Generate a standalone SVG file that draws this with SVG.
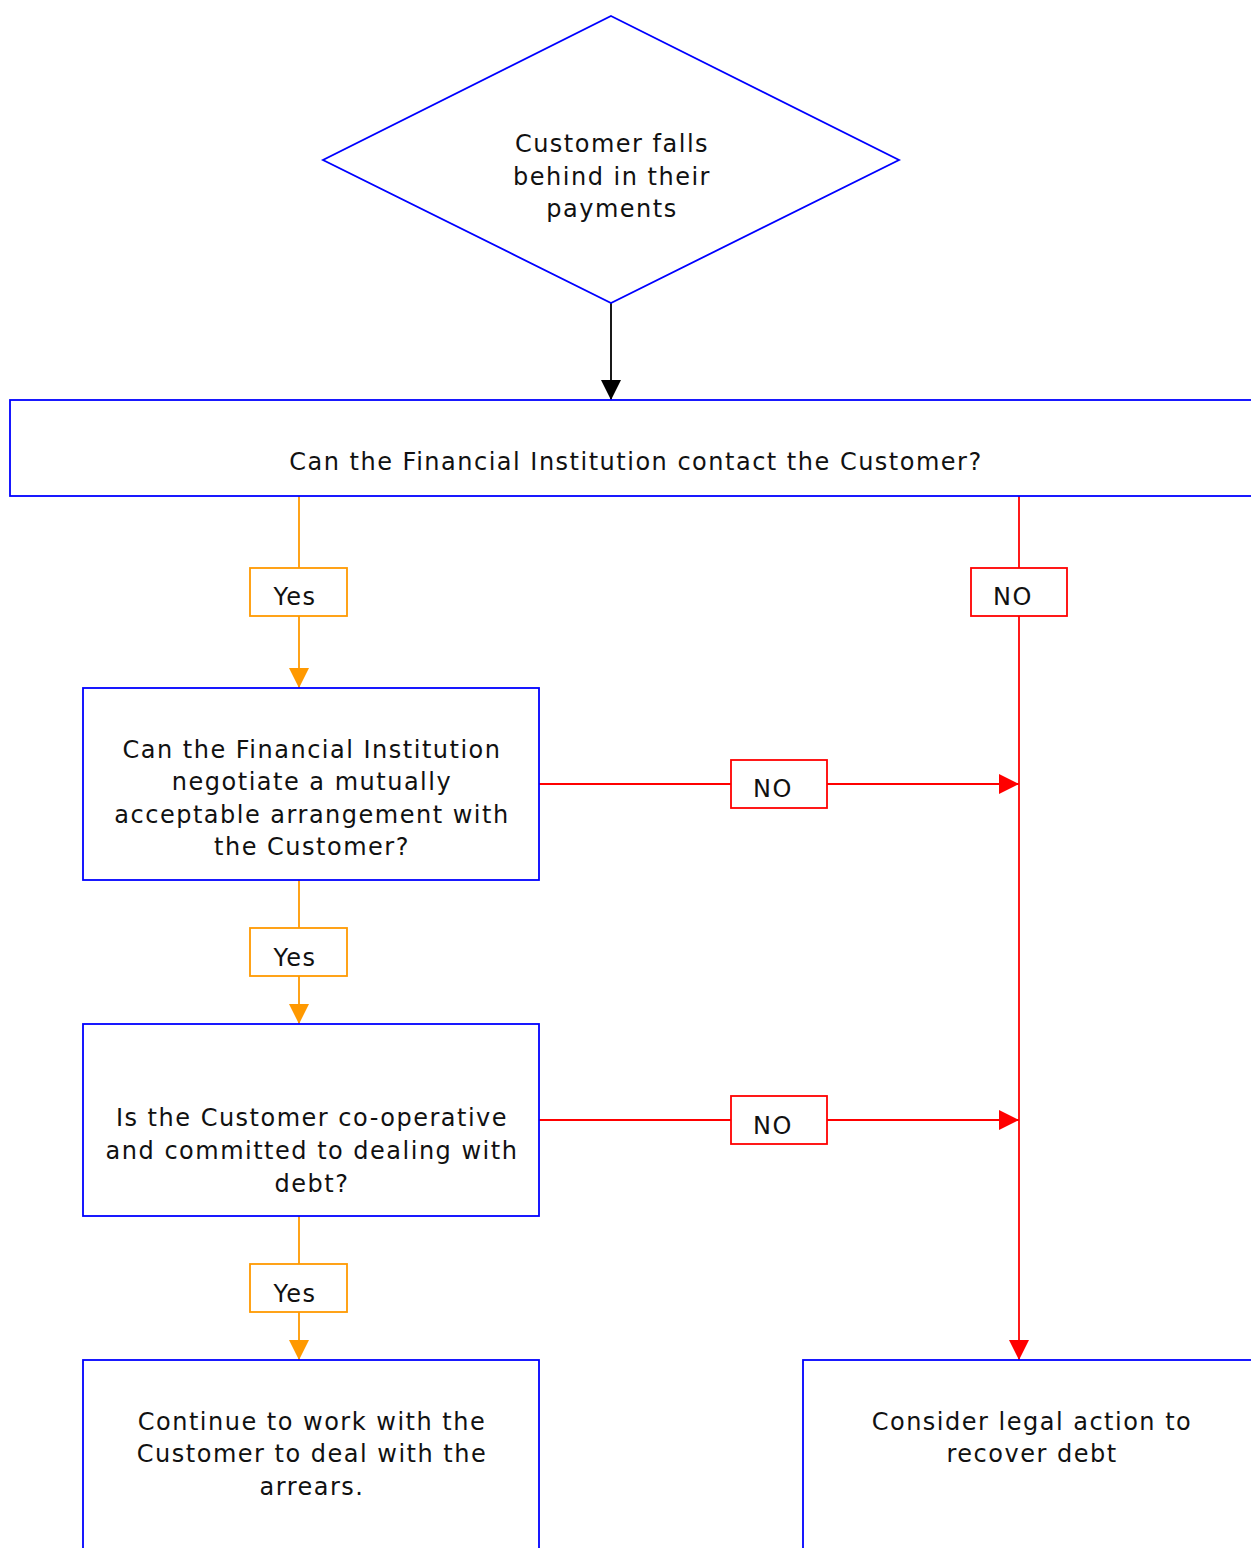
<svg xmlns="http://www.w3.org/2000/svg" width="1251" height="1548" viewBox="0 0 1251 1548">
  <style>
    .node { fill: #ffffff; stroke: #0000ff; stroke-width: 1.8; }
    .yesbox { fill: #ffffff; stroke: #ff9900; stroke-width: 1.8; }
    .nobox { fill: #ffffff; stroke: #ff0000; stroke-width: 1.8; }
    .yes { stroke: #ff9900; stroke-width: 1.8; fill: none; }
    .no { stroke: #ff0000; stroke-width: 1.8; fill: none; }
    .plain { stroke: #000000; stroke-width: 1.8; fill: none; }
    text { font-family: "DejaVu Sans", Verdana, sans-serif; font-size: 24px; letter-spacing: 1.5px; fill: #111111; text-anchor: middle; }
  </style>
  <defs>
    <marker id="arrBlack" markerUnits="userSpaceOnUse" markerWidth="20" markerHeight="20" refX="20" refY="10" orient="auto">
      <path d="M0,0 L20,10 L0,20 Z" fill="#000000"/>
    </marker>
    <marker id="arrOrange" markerUnits="userSpaceOnUse" markerWidth="20" markerHeight="20" refX="20" refY="10" orient="auto">
      <path d="M0,0 L20,10 L0,20 Z" fill="#ff9900"/>
    </marker>
    <marker id="arrRed" markerUnits="userSpaceOnUse" markerWidth="20" markerHeight="20" refX="20" refY="10" orient="auto">
      <path d="M0,0 L20,10 L0,20 Z" fill="#ff0000"/>
    </marker>
  </defs>

  <rect width="1251" height="1548" fill="#ffffff"/>

  <!-- connectors -->
  <g id="connectors">
    <line class="plain" x1="611" y1="303" x2="611" y2="400" marker-end="url(#arrBlack)"/>
    <!-- yes branch -->
    <line class="yes" x1="299" y1="496" x2="299" y2="568"/>
    <line class="yes" x1="299" y1="616" x2="299" y2="688" marker-end="url(#arrOrange)"/>
    <line class="yes" x1="299" y1="880" x2="299" y2="928"/>
    <line class="yes" x1="299" y1="976" x2="299" y2="1024" marker-end="url(#arrOrange)"/>
    <line class="yes" x1="299" y1="1216" x2="299" y2="1264"/>
    <line class="yes" x1="299" y1="1312" x2="299" y2="1360" marker-end="url(#arrOrange)"/>
    <!-- no branch -->
    <line class="no" x1="1019" y1="496" x2="1019" y2="568"/>
    <line class="no" x1="1019" y1="616" x2="1019" y2="1360" marker-end="url(#arrRed)"/>
    <line class="no" x1="539" y1="784" x2="731" y2="784"/>
    <line class="no" x1="827" y1="784" x2="1019" y2="784" marker-end="url(#arrRed)"/>
    <line class="no" x1="539" y1="1120" x2="731" y2="1120"/>
    <line class="no" x1="827" y1="1120" x2="1019" y2="1120" marker-end="url(#arrRed)"/>
    <!-- labels -->
    <rect class="yesbox" x="250" y="568" width="97" height="48"/>
    <text x="295" y="605">Yes</text>
    <rect class="yesbox" x="250" y="928" width="97" height="48"/>
    <text x="295" y="966">Yes</text>
    <rect class="yesbox" x="250" y="1264" width="97" height="48"/>
    <text x="295" y="1302">Yes</text>
    <rect class="nobox" x="971" y="568" width="96" height="48"/>
    <text x="1013" y="605">NO</text>
    <rect class="nobox" x="731" y="760" width="96" height="48"/>
    <text x="773" y="797">NO</text>
    <rect class="nobox" x="731" y="1096" width="96" height="48"/>
    <text x="773" y="1134">NO</text>
  </g>

  <g id="start">
    <polygon class="node" points="611,16 899,160 611,303 323,160"/>
    <text x="612" y="152">Customer falls</text>
    <text x="612" y="185">behind in their</text>
    <text x="612" y="217">payments</text>
  </g>

  <g id="contact">
    <rect class="node" x="10" y="400" width="1260" height="96"/>
    <text x="636" y="470">Can the Financial Institution contact the Customer?</text>
  </g>

  <g id="negotiate">
    <rect class="node" x="83" y="688" width="456" height="192"/>
    <text x="312" y="758">Can the Financial Institution</text>
    <text x="312" y="790">negotiate a mutually</text>
    <text x="312" y="823">acceptable arrangement with</text>
    <text x="312" y="855">the Customer?</text>
  </g>

  <g id="cooperative">
    <rect class="node" x="83" y="1024" width="456" height="192"/>
    <text x="312" y="1126">Is the Customer co-operative</text>
    <text x="312" y="1159">and committed to dealing with</text>
    <text x="312" y="1192">debt?</text>
  </g>

  <g id="continue">
    <rect class="node" x="83" y="1360" width="456" height="220"/>
    <text x="312" y="1430">Continue to work with the</text>
    <text x="312" y="1462">Customer to deal with the</text>
    <text x="312" y="1495">arrears.</text>
  </g>

  <g id="legal">
    <rect class="node" x="803" y="1360" width="480" height="220"/>
    <text x="1032" y="1430">Consider legal action to</text>
    <text x="1032" y="1462">recover debt</text>
  </g>
</svg>
